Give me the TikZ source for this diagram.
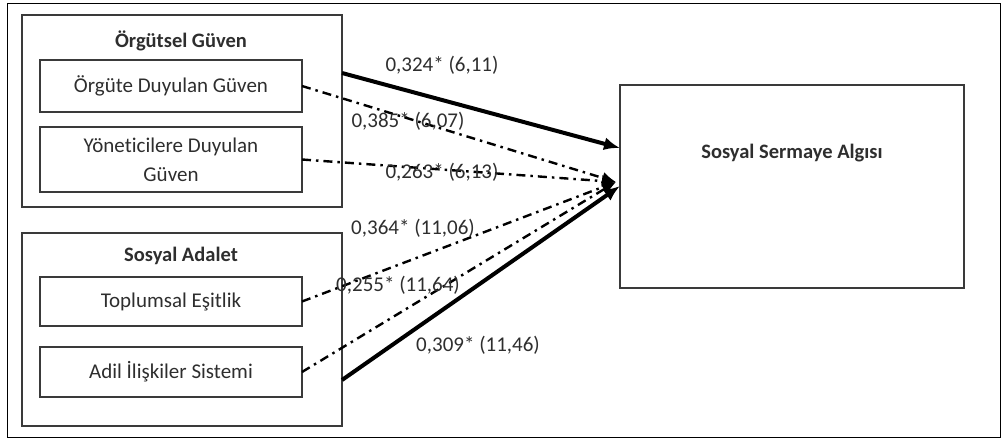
\documentclass[tikz,border=0pt]{standalone}
\usepackage{fontspec}
\setmainfont{Carlito}[Ligatures=NoCommon]
\usetikzlibrary{arrows.meta,calc}
\definecolor{txt}{HTML}{2E2E2E}
\definecolor{ln}{HTML}{3A3A3A}
\tikzset{
  box/.style={draw=ln,line width=1.3pt,inner sep=0pt,outer sep=0pt,anchor=north west},
  ttl/.style={font=\fontsize{20.5}{24}\selectfont\bfseries,text=txt},
  itm/.style={font=\fontsize{21}{29}\selectfont,text=txt,align=center},
  lbl/.style={font=\fontsize{21}{24}\selectfont,text=txt,inner sep=0pt},
  thick arrow/.style={line width=4pt,-{Latex[length=16pt,width=13pt]}},
  dd arrow/.style={line width=2.4pt,dash pattern=on 9pt off 5pt on 2.5pt off 5pt,-{Latex[length=14pt,width=12pt]}}
}
\begin{document}
\begin{tikzpicture}[x=1pt,y=-1pt]
\useasboundingbox (0,0) rectangle (1004,440);
\node[box,draw=black,line width=1pt,minimum width=993pt,minimum height=434pt] (frame) at (7,3) {};
% group 1
\node[box,minimum width=320pt,minimum height=192pt] (g1) at (22,15) {};
\node[ttl] (g1t) at (181,41) {Örgütsel Güven};
\node[box,minimum width=262pt,minimum height=52pt] (b1) at (40,60) {};
\node[itm] (b1t) at (b1.center) {Örgüte Duyulan Güven};
\node[box,minimum width=262pt,minimum height=65pt] (b2) at (40,127) {};
\node[itm] (b2t) at (b2.center) {Yöneticilere Duyulan\\Güven};
% group 2
\node[box,minimum width=320pt,minimum height=193pt] (g2) at (22,233) {};
\node[ttl] (g2t) at (181,256) {Sosyal Adalet};
\node[box,minimum width=262pt,minimum height=49pt] (b3) at (40,277) {};
\node[itm] (b3t) at (b3.center) {Toplumsal Eşitlik};
\node[box,minimum width=262pt,minimum height=50pt] (b4) at (40,347) {};
\node[itm] (b4t) at (b4.center) {Adil İlişkiler Sistemi};
% target
\node[box,minimum width=344pt,minimum height=203pt] (t) at (620,85) {};
\node[ttl] (tt) at (792,153) {Sosyal Sermaye Algısı};
\coordinate (c) at (616,182);
% arrows
\draw[dd arrow] (b1.east) -- (c);
\draw[dd arrow] (b2.east) -- (c);
\draw[dd arrow] (b3.east) -- (c);
\draw[dd arrow] (b4.east) -- (c);
\draw[thick arrow] ($(g1.north east)+(0,58)$) -- ($(t.north west)+(0,63)$);
\draw[thick arrow] ($(g2.north east)+(0,147)$) -- ($(t.north west)+(0,101)$);
% labels
\node[lbl] (l1) at (442,65) {0,324* (6,11)};
\node[lbl] (l2) at (408,121) {0,385* (6,07)};
\node[lbl] (l3) at (442,172) {0,263* (6,13)};
\node[lbl] (l4) at (413,228) {0,364* (11,06)};
\node[lbl] (l5) at (398,285) {0,255* (11,64)};
\node[lbl] (l6) at (478,345) {0,309* (11,46)};
\end{tikzpicture}
\end{document}
